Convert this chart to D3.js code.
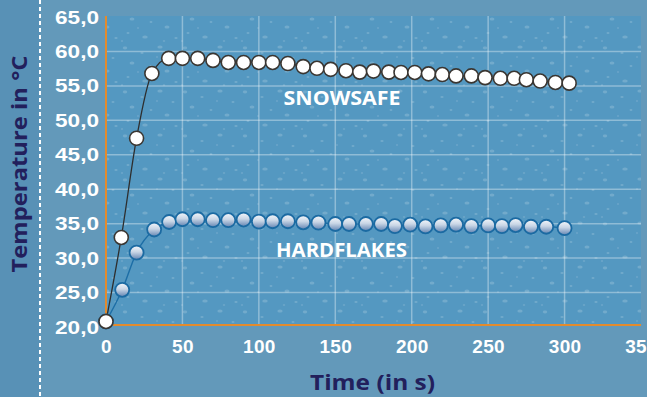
<!DOCTYPE html>
<html><head><meta charset="utf-8">
<script src="https://cdn.jsdelivr.net/npm/d3@7"></script>
<style>
html,body{margin:0;padding:0;background:#6399ba;}
svg{display:block;font-family:"Open Sans",Inter,sans-serif;}
</style></head>
<body><svg id="c" width="647" height="397"></svg>
<script>
// ---- data ----
const snowsafeTime = [0,10,20,30,41,50,60,70,80,90,100,109,119,129,138,147,157,166,175,185,193,202,211,220,229,239,248,258,267,275,284,294,303];
const snowsafeTemp = [20.8,33.0,47.4,56.8,59.0,59.0,59.0,58.7,58.4,58.4,58.4,58.4,58.25,57.8,57.55,57.4,57.2,57.0,57.15,57.0,56.95,56.95,56.75,56.65,56.45,56.45,56.2,56.1,56.1,55.9,55.7,55.5,55.4];
const hardflakesTime = [0,10.6,20,31.5,41.3,50,60,70,80,90,100,109,119,129,139,150,159,170,180,189,199,209,219,229,239,250,259,268,278,288,300];
const hardflakesTemp = [20.8,25.4,30.8,34.15,35.24,35.64,35.64,35.5,35.5,35.6,35.3,35.35,35.35,35.2,35.15,34.95,34.95,34.95,34.95,34.65,34.85,34.6,34.75,34.85,34.65,34.75,34.65,34.8,34.55,34.55,34.35];
const xTicks = [0,50,100,150,200,250,300,350];
const yTicks = [20,25,30,35,40,45,50,55,60,65];
const seriesNames = ["SNOWSAFE","HARDFLAKES"];
const xTitle = "Time (in s)";
const yTitle = "Temperature in °C";

const svg = d3.select("#c");
const W = 647, H = 397;
const x = d3.scaleLinear().domain([0,350]).range([106,641]);
const y = d3.scaleLinear().domain([20,65]).range([327,17]);
const plotTop = 16, plotBottom = 325;

const defs = svg.append("defs");
// snow speckle texture tile (decorative)
const pat = defs.append("pattern").attr("id","snow").attr("patternUnits","userSpaceOnUse")
  .attr("width",60).attr("height",44);
const specks = [[5,4,2.2,1.4],[22,9,1.6,1],[40,3,2.6,1.6],[53,14,1.5,1],[12,19,2.4,1.5],[31,22,1.4,0.9],[47,27,2.5,1.5],[8,33,1.5,1],[25,37,2.7,1.6],[56,38,1.6,1],[18,28,1,0.8],[37,13,1,0.7],[2,41,1.1,0.8],[44,41,1.2,0.8]];
specks.forEach(s=>pat.append("ellipse").attr("cx",s[0]).attr("cy",s[1]).attr("rx",s[2]).attr("ry",s[3]).attr("fill","#8fbbd6").attr("opacity",0.5));
const grad = defs.append("linearGradient").attr("id","hf").attr("x1",0).attr("y1",0).attr("x2",0).attr("y2",1);
grad.append("stop").attr("offset","0%").attr("stop-color","#f4f7fb");
grad.append("stop").attr("offset","45%").attr("stop-color","#c9d6e6");
grad.append("stop").attr("offset","100%").attr("stop-color","#6284b2");

// backgrounds
svg.append("rect").attr("x",0).attr("y",0).attr("width",W).attr("height",H).attr("fill","#6399ba");
svg.append("rect").attr("x",0).attr("y",0).attr("width",40).attr("height",H).attr("fill","#5891b6");
svg.append("line").attr("x1",40).attr("x2",40).attr("y1",0).attr("y2",H)
  .attr("stroke","#fff").attr("stroke-width",2).attr("stroke-dasharray","4,3");

svg.append("rect").attr("x",x(0)).attr("y",plotTop).attr("width",x(350)-x(0)).attr("height",plotBottom-plotTop).attr("fill","#5498c1");
svg.append("rect").attr("x",x(0)).attr("y",plotTop).attr("width",x(350)-x(0)).attr("height",plotBottom-plotTop).attr("fill","url(#snow)");

// grid
const gGrid = svg.append("g");
gGrid.selectAll("line.h").data(yTicks.filter(d=>d>20 && d<65)).join("line")
  .attr("x1",x(0)).attr("x2",x(350)).attr("y1",d=>y(d)).attr("y2",d=>y(d))
  .attr("stroke","#ffffff").attr("stroke-opacity",0.35).attr("stroke-width",1.5);
gGrid.selectAll("line.v").data(xTicks.filter(d=>d>0 && d<350)).join("line")
  .attr("x1",d=>x(d)).attr("x2",d=>x(d)).attr("y1",plotTop).attr("y2",plotBottom)
  .attr("stroke","#ffffff").attr("stroke-opacity",0.35).attr("stroke-width",1.5);

// axes
const fmt = d => d.toFixed(1).replace(".",",");
const yAxis = svg.append("g").attr("transform","translate(106,0)")
  .call(d3.axisLeft(y).tickValues(yTicks).tickFormat(fmt).tickSize(0).tickPadding(7));
yAxis.select(".domain").remove();
yAxis.selectAll("text").attr("fill","#fff").attr("font-size",19).attr("font-weight",700)
  .attr("textLength",44).attr("lengthAdjust","spacingAndGlyphs");
const xAxis = svg.append("g").attr("transform",`translate(0,${plotBottom})`)
  .call(d3.axisBottom(x).tickValues(xTicks).tickFormat(d3.format("d")).tickSize(0).tickPadding(15));
xAxis.select(".domain").remove();
xAxis.selectAll("text").attr("fill","#fff").attr("font-size",19).attr("font-weight",700)
  .attr("letter-spacing",0.3);

svg.append("line").attr("x1",x(0)).attr("x2",x(0)).attr("y1",plotTop).attr("y2",plotBottom)
  .attr("stroke","#e38b2d").attr("stroke-width",2);
svg.append("line").attr("x1",x(0)).attr("x2",x(350)).attr("y1",plotBottom).attr("y2",plotBottom)
  .attr("stroke","#e38b2d").attr("stroke-width",2);

// titles
svg.append("text").attr("x",372.5).attr("y",390).attr("text-anchor","middle")
  .attr("fill","#22205c").attr("font-size",21).attr("font-weight",700)
  .attr("textLength",125).attr("lengthAdjust","spacingAndGlyphs").text(xTitle);
svg.append("text").attr("transform","translate(27,164) rotate(-90)").attr("text-anchor","middle")
  .attr("fill","#22205c").attr("font-size",21).attr("font-weight",700)
  .attr("textLength",217).attr("lengthAdjust","spacingAndGlyphs").text(yTitle);

// series
const hf = hardflakesTime.map((t,i)=>({t,v:hardflakesTemp[i]}));
const ss = snowsafeTime.map((t,i)=>({t,v:snowsafeTemp[i]}));
const line = d3.line().x(d=>x(d.t)).y(d=>y(d.v)).curve(d3.curveMonotoneX);

svg.append("path").attr("d",line(hf)).attr("fill","none").attr("stroke","#1d6ea6").attr("stroke-width",1.4);
svg.append("path").attr("d",line(ss)).attr("fill","none").attr("stroke","#2e2e2e").attr("stroke-width",1.3);

svg.append("g").selectAll("circle").data(hf).join("circle")
  .attr("cx",d=>x(d.t)).attr("cy",d=>y(d.v)).attr("r",7)
  .attr("fill","url(#hf)").attr("stroke","#1b6aa2").attr("stroke-width",1.8);
svg.append("g").selectAll("circle").data(ss).join("circle")
  .attr("cx",d=>x(d.t)).attr("cy",d=>y(d.v)).attr("r",7)
  .attr("fill","#ffffff").attr("stroke","#3a3632").attr("stroke-width",1.6);

// series labels
svg.append("text").attr("x",342).attr("y",105).attr("text-anchor","middle")
  .attr("fill","#fff").attr("font-size",19).attr("font-weight",700)
  .attr("textLength",117).attr("lengthAdjust","spacingAndGlyphs").text(seriesNames[0]);
svg.append("text").attr("x",341.5).attr("y",257).attr("text-anchor","middle")
  .attr("fill","#fff").attr("font-size",19).attr("font-weight",700)
  .attr("textLength",131).attr("lengthAdjust","spacingAndGlyphs").text(seriesNames[1]);
</script></body></html>
